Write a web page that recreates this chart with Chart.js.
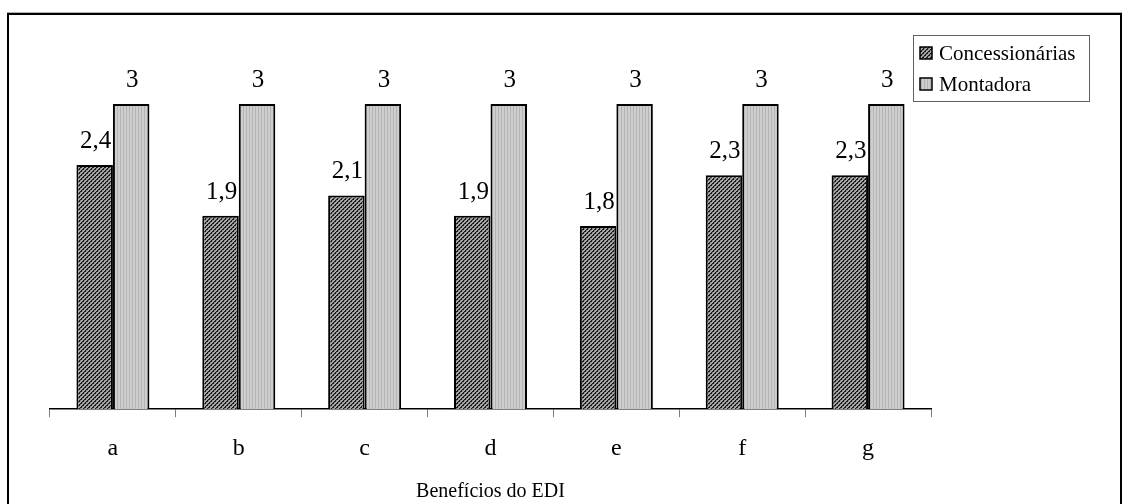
<!DOCTYPE html>
<html><head><meta charset="utf-8">
<script src="https://cdn.jsdelivr.net/npm/chart.js@4"></script>
<style>
html,body{margin:0;padding:0;background:#fff;overflow:hidden}
#wrap{position:relative;width:1124px;height:504px}
#frame{position:absolute;left:7px;top:13px;width:1111px;height:600px;border:2px solid #000;box-shadow:0 -1px 0 #b0b0b0}
canvas{position:absolute;left:0;top:0}
</style></head><body>
<div id="wrap"><div id="frame"></div><canvas id="c" width="1124" height="504"></canvas></div>
<script>
const categories = ['a', 'b', 'c', 'd', 'e', 'f', 'g'];
const concessionarias = [2.4, 1.9, 2.1, 1.9, 1.8, 2.3, 2.3];
const montadora = [3, 3, 3, 3, 3, 3, 3];
const seriesNames = ['Concessionárias', 'Montadora'];
const axisTitle = 'Benefícios do EDI';

const FONT = '"Liberation Serif", "Times New Roman", serif';

function darkPattern() {
  const c = document.createElement('canvas'); c.width = 4; c.height = 4;
  const x = c.getContext('2d');
  x.fillStyle = '#a8a8a8'; x.fillRect(0, 0, 4, 4);
  x.fillStyle = '#1c1c1c';
  for (let i = 0; i < 4; i++) { x.fillRect(i, 3 - i, 1, 1); x.fillRect((i + 1) % 4, 3 - i, 1, 1); }
  x.fillStyle = '#707070';
  x.fillRect(0, 0, 1, 1); x.fillRect(2, 2, 1, 1);
  return x.createPattern(c, 'repeat');
}
function lightPattern() {
  const c = document.createElement('canvas'); c.width = 3; c.height = 1;
  const x = c.getContext('2d');
  x.fillStyle = '#cecece'; x.fillRect(0, 0, 3, 1);
  x.fillStyle = '#b4b4b4'; x.fillRect(0, 0, 1, 1);
  return x.createPattern(c, 'repeat');
}
const patDark = darkPattern();
const patLight = lightPattern();

const labelsAndLegend = {
  id: 'labelsAndLegend',
  afterDatasetsDraw(chart) {
    const ctx = chart.ctx;
    ctx.save();
    ctx.fillStyle = '#000';
    ctx.font = '25px ' + FONT;
    ctx.textAlign = 'center';
    ctx.textBaseline = 'alphabetic';
    chart.data.datasets.forEach((ds, di) => {
      const meta = chart.getDatasetMeta(di);
      meta.data.forEach((bar, i) => {
        ctx.fillText(String(ds.data[i]).replace('.', ','), bar.x + 1, bar.y - 17);
      });
    });
    // legend
    const bx = 913, by = 35, bw = 176, bh = 66;
    ctx.strokeStyle = '#606060'; ctx.lineWidth = 1;
    ctx.strokeRect(bx + 0.5, by + 0.5, bw, bh);
    ctx.font = '21px ' + FONT;
    ctx.textAlign = 'left';
    ctx.textBaseline = 'middle';
    chart.data.datasets.forEach((ds, di) => {
      const cy = by + 18 + di * 31;
      ctx.fillStyle = ds.backgroundColor;
      ctx.fillRect(920, cy - 6, 12, 12);
      ctx.strokeStyle = '#000'; ctx.lineWidth = 1.5;
      ctx.strokeRect(920, cy - 6, 12, 12);
      ctx.fillStyle = '#000';
      ctx.fillText(ds.label, 939, cy + 1);
    });
    ctx.restore();
  }
};

new Chart(document.getElementById('c'), {
  type: 'bar',
  data: {
    labels: categories,
    datasets: [
      { label: seriesNames[0], data: concessionarias, backgroundColor: patDark, borderColor: '#000', borderWidth: 2, categoryPercentage: 0.58, barPercentage: 1.0 },
      { label: seriesNames[1], data: montadora, backgroundColor: patLight, borderColor: '#000', borderWidth: 2, categoryPercentage: 0.58, barPercentage: 1.0 }
    ]
  },
  options: {
    responsive: false,
    animation: false,
    devicePixelRatio: 1,
    layout: { padding: { left: 50, right: 193, top: 53, bottom: 0 } },
    plugins: { legend: { display: false }, tooltip: { enabled: false } },
    scales: {
      x: {
        grid: { display: true, drawOnChartArea: false, drawTicks: true, tickLength: 8, color: '#808080', lineWidth: 1, offset: true },
        border: { display: true, color: '#000', width: 1.5 },
        ticks: { color: '#000', font: { family: FONT, size: 24 }, padding: 17 },
        title: { display: true, text: axisTitle, color: '#000', font: { family: FONT, size: 20 }, padding: { top: 0, bottom: 0 } }
      },
      y: { display: false, min: 0, max: 3.5 }
    }
  },
  plugins: [labelsAndLegend]
});
</script>
</body></html>
